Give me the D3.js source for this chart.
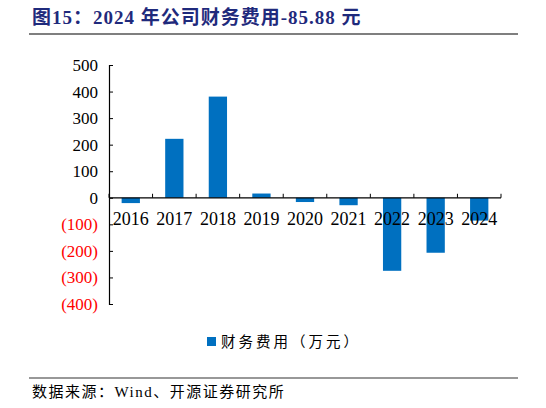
<!DOCTYPE html>
<html>
<head>
<meta charset="utf-8">
<script src="https://cdn.jsdelivr.net/npm/d3@7"></script>
<style>
  body { margin: 0; background: #fff; }
  svg { display: block; }
</style>
</head>
<body>
<svg id="chart"></svg>
<script>
const years = ['2016', '2017', '2018', '2019', '2020', '2021', '2022', '2023', '2024'];
const expense = [-20, 222, 381, 16, -16, -28, -275, -207, -85.88];
const yTicks = [500, 400, 300, 200, 100, 0, -100, -200, -300, -400];

const width = 546;
const height = 408;
const margin = { top: 65, right: 45, bottom: 104, left: 109 };

const svg = d3.select('#chart').attr('width', width).attr('height', height);

// title and rules
svg.append('text')
    .attr('x', 32).attr('y', 24)
    .attr('font-family', '"Liberation Serif", "Noto Sans CJK SC", serif')
    .attr('font-weight', 'bold')
    .attr('font-size', 19)
    .attr('letter-spacing', 1)
    .attr('fill', '#1F2A7C')
    .text('图15：2024 年公司财务费用-85.88 元');

svg.append('line')
    .attr('x1', 29).attr('x2', 518).attr('y1', 34).attr('y2', 34)
    .attr('stroke', '#000').attr('stroke-width', 1.2);

svg.append('line')
    .attr('x1', 29).attr('x2', 518).attr('y1', 378).attr('y2', 378)
    .attr('stroke', '#333').attr('stroke-width', 1.2);

svg.append('text')
    .attr('x', 32).attr('y', 397)
    .attr('font-family', '"Liberation Serif", "Noto Sans CJK SC", serif')
    .attr('font-size', 15)
    .attr('letter-spacing', 1.5)
    .attr('fill', '#000')
    .text('数据来源：Wind、开源证券研究所');

const x = d3.scaleBand()
    .domain(years)
    .range([margin.left, width - margin.right])
    .paddingInner(0.58)
    .paddingOuter(0.29);

const y = d3.scaleLinear()
    .domain([-400, 500])
    .range([height - margin.bottom, margin.top]);

// bars
svg.selectAll('.bar')
    .data(years.map((yr, i) => ({ yr, v: expense[i] })))
    .enter()
    .append('rect')
    .attr('class', 'bar')
    .attr('x', d => x(d.yr))
    .attr('y', d => y(Math.max(0, d.v)))
    .attr('width', x.bandwidth())
    .attr('height', d => Math.abs(y(d.v) - y(0)))
    .attr('fill', '#0070C0');

// y axis
const yAxis = svg.append('g')
    .attr('transform', `translate(${margin.left},0)`)
    .call(d3.axisLeft(y)
        .tickValues(yTicks)
        .tickSize(-4)
        .tickPadding(11)
        .tickFormat(d => d < 0 ? `(${-d})` : d));
yAxis.select('.domain').attr('stroke', '#000').attr('stroke-width', 1.2);
yAxis.selectAll('.tick line').attr('stroke', '#000');
yAxis.selectAll('.tick text')
    .attr('font-family', '"Liberation Serif", serif')
    .attr('font-size', 17)
    .attr('fill', d => d < 0 ? '#FF0000' : '#000');

// x axis at zero, ticks at category boundaries pointing up
const step = x.step();
const bounds = d3.range(years.length + 1).map(i => margin.left + i * step);
const xg = svg.append('g');
xg.append('line')
    .attr('x1', margin.left).attr('x2', width - margin.right)
    .attr('y1', y(0)).attr('y2', y(0))
    .attr('stroke', '#000').attr('stroke-width', 1.2);
xg.selectAll('.xtick')
    .data(bounds)
    .enter()
    .append('line')
    .attr('x1', d => d).attr('x2', d => d)
    .attr('y1', y(0)).attr('y2', y(0) - 4)
    .attr('stroke', '#000');
xg.selectAll('.xlabel')
    .data(years)
    .enter()
    .append('text')
    .attr('x', d => x(d) + x.bandwidth() / 2)
    .attr('y', y(0) + 27)
    .attr('text-anchor', 'middle')
    .attr('font-family', '"Liberation Serif", serif')
    .attr('font-size', 18)
    .attr('fill', '#000')
    .text(d => d);

// legend
const lg = svg.append('g').attr('transform', 'translate(207,337)');
lg.append('rect').attr('width', 9).attr('height', 9).attr('fill', '#0070C0');
lg.append('text')
    .attr('x', 14).attr('y', 9.5)
    .attr('font-family', '"Noto Sans CJK SC", sans-serif')
    .attr('font-size', 14.5)
    .attr('letter-spacing', 3)
    .attr('fill', '#000')
    .text('财务费用（万元）');
</script>
</body>
</html>
